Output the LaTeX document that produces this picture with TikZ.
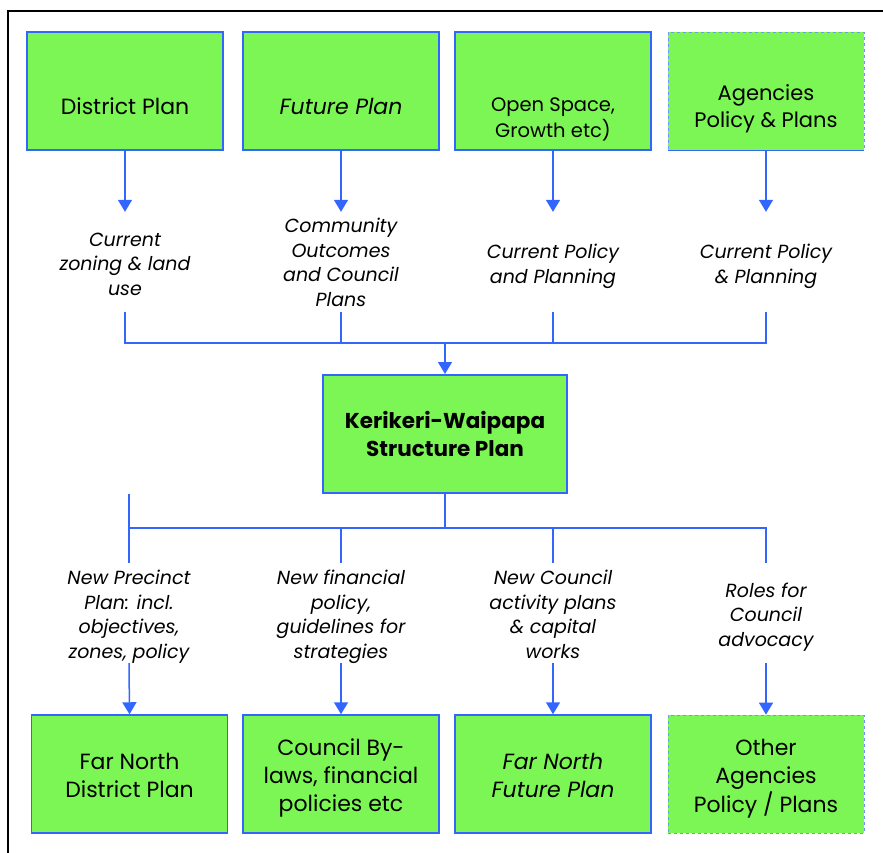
\documentclass[tikz,border=0pt]{standalone}
\usepackage{fontspec}
\setmainfont{Poppins}
\usetikzlibrary{arrows.meta}
\definecolor{boxgreen}{RGB}{124,246,84}
\definecolor{lineblue}{RGB}{51,102,255}
\newcommand\bxt[2]{\raisebox{#1}[0pt][0pt]{\begin{tabular}{@{}c@{}}#2\end{tabular}}}
\begin{document}
\begin{tikzpicture}[x=1pt,y=-1pt,
  box/.style={draw=lineblue, line width=1.5pt, fill=boxgreen, minimum width=196pt, minimum height=118pt, inner sep=0pt, font=\fontsize{22}{28}\selectfont},
  dbox/.style={box, dashed, line width=0.7pt, draw=lineblue!70},
  cbox/.style={box, line width=2pt, minimum width=244pt, font=\fontsize{21.5}{28}\selectfont\bfseries},
  lbl/.style={minimum height=100pt, inner sep=0pt, font=\fontsize{19}{24.5}\selectfont\itshape},
  conn/.style={draw=lineblue, line width=1.5pt},
  arr/.style={conn, -{Triangle[width=14pt,length=12pt]}},
]
\useasboundingbox (0,0) rectangle (883,852);
\draw[line width=1.5pt] (8,860) -- (8,11) -- (890,11);

% top boxes
\node[box] (t1) at (125,91) {\bxt{-23pt}{District Plan}};
\node[box] (t2) at (341,91) {\bxt{-23pt}{\itshape Future Plan}};
\node[box, font=\fontsize{19.5}{25}\selectfont] (t3) at (553,91) {\bxt{-34pt}{Open Space,\\Growth etc)}};
\node[dbox, font=\fontsize{21}{27}\selectfont] (t4) at (766,91) {\bxt{-23pt}{Agencies\\Policy \& Plans}};
\draw[lineblue, line width=1.5pt] (t4.south west) -- (t4.south east);

% top labels
\node[lbl] (l1) at (125,262) {\bxt{-8pt}{Current\\zoning \& land\\use}};
\node[lbl] (l2) at (341,262) {\bxt{-7pt}{Community\\Outcomes\\and Council\\Plans}};
\node[lbl] (l3) at (553,262) {\bxt{-8.5pt}{Current Policy\\and Planning}};
\node[lbl] (l4) at (766,262) {\bxt{-8.5pt}{Current Policy\\\& Planning}};

\foreach \i in {1,...,4} \draw[arr] (t\i.south) -- (l\i.north);

\coordinate (jt) at (445,343);
\foreach \i in {1,...,4} \draw[conn] (l\i.south) |- (jt);

% centre
\node[cbox] (c) at (445,434) {\bxt{-8.5pt}{Kerikeri-Waipapa\\Structure Plan}};
\draw[arr] (jt) -- (c.north);

% bottom labels
\node[lbl] (m1) at (129,613) {\bxt{-8pt}{New Precinct\\Plan: incl.\\objectives,\\zones, policy}};
\node[lbl] (m2) at (341,613) {\bxt{-8pt}{New financial\\policy,\\guidelines for\\strategies}};
\node[lbl] (m3) at (553,613) {\bxt{-8pt}{New Council\\activity plans\\\& capital\\works}};
\node[lbl] (m4) at (766,613) {\bxt{-8pt}{Roles for\\Council\\advocacy}};

\coordinate (jb) at (445,528);
\coordinate (s1) at (129,494);
\draw[conn, line width=2pt] (c.south) -- (jb);
\foreach \i in {1,...,4} \draw[conn, line width=2pt] (jb) -| (m\i.north);
\draw[conn, line width=2pt] (s1) -- (m1.north);

% bottom boxes
\node[box] (b1) at (129.5,774) {\bxt{-9.5pt}{Far North\\District Plan}};
\node[box] (b2) at (341,774) {\bxt{-9pt}{Council By-\\laws, financial\\policies etc}};
\node[box] (b3) at (553,774) {\bxt{-9.5pt}{\itshape Far North\\\itshape Future Plan}};
\node[dbox] (b4) at (766,774) {\bxt{-10pt}{Other\\Agencies\\Policy / Plans}};

\foreach \i in {1,...,4} \draw[arr] (m\i.south) -- (b\i.north);
\end{tikzpicture}
\end{document}
